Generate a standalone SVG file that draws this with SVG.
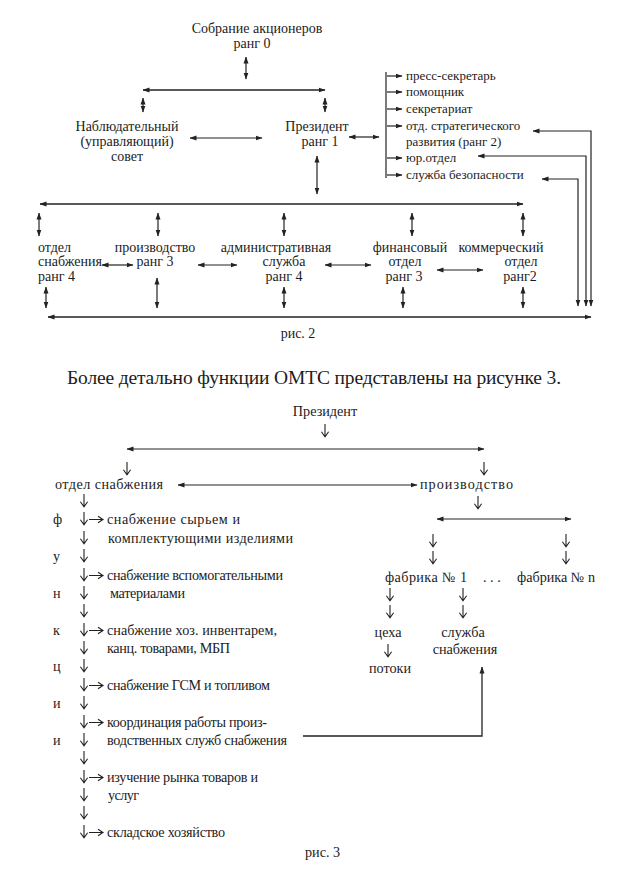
<svg xmlns="http://www.w3.org/2000/svg" xmlns:xlink="http://www.w3.org/1999/xlink" width="629" height="872" viewBox="0 0 629 872">
<style>
text{font-family:'Liberation Serif','DejaVu Serif','Noto Serif',serif;font-size:14px;fill:#1c1c1c}
.s{font-size:13px}
.f3{font-size:14.2px}
.h{font-size:19.5px}
.m{text-anchor:middle}
.ln{stroke:#222;stroke-width:1.2;fill:none}
.bus{stroke:#222;stroke-width:1.6;fill:none}
.da{marker-start:url(#ah);marker-end:url(#ah)}
.ea{marker-end:url(#ah)}
.g{stroke:#222;stroke-width:1.1;fill:none}
</style>
<defs>
<marker id="ah" markerUnits="userSpaceOnUse" markerWidth="7" markerHeight="6" refX="6.5" refY="3" orient="auto-start-reverse"><path d="M0,0.5 L7,3 L0,5.5 z" fill="#222"/></marker>
<path id="dn" d="M0,-12 V0.5 M-3.6,-4.2 L0,0.8 L3.6,-4.2"/>
<path id="rt" d="M0,0 H13.5 M9,-3.2 L14,0 L9,3.2"/>
</defs>
<rect width="629" height="872" fill="#fff"/>

<!-- Figure 2 -->
<g id="fig2-nodes">
<g id="n-sobranie"><text class="m" x="257" y="33">Собрание акционеров</text><text class="m" x="252" y="48">ранг 0</text></g>
<g id="n-nabl"><text class="m" x="127" y="131">Наблюдательный</text><text class="m" x="127" y="146">(управляющий)</text><text class="m" x="127" y="161">совет</text></g>
<g id="n-prez"><text class="m" x="317" y="131">Президент</text><text class="m" x="320" y="146">ранг 1</text></g>
<g id="n-list">
<text class="s" x="406" y="80">пресс-секретарь</text>
<text class="s" x="406" y="96">помощник</text>
<text class="s" x="406" y="113">секретариат</text>
<text class="s" x="406" y="130">отд. стратегического</text>
<text class="s" x="406" y="146">развития (ранг 2)</text>
<text class="s" x="406" y="162">юр.отдел</text>
<text class="s" x="406" y="179">служба безопасности</text>
</g>
<g id="n-otdsnab"><text x="38" y="252">отдел</text><text x="38" y="266">снабжения</text><text x="38" y="281">ранг 4</text></g>
<g id="n-proizv"><text class="m" x="155" y="252">производство</text><text class="m" x="155" y="266">ранг 3</text></g>
<g id="n-adm"><text class="m" x="276" y="252">административная</text><text class="m" x="284" y="266">служба</text><text class="m" x="284" y="281">ранг 4</text></g>
<g id="n-fin"><text class="m" x="410" y="252">финансовый</text><text class="m" x="405" y="266">отдел</text><text class="m" x="404" y="281">ранг 3</text></g>
<g id="n-komm"><text class="m" x="501" y="252">коммерческий</text><text class="m" x="521" y="266">отдел</text><text class="m" x="520" y="281">ранг2</text></g>
<text class="m" x="298" y="338">рис. 2</text>
</g>

<g id="fig2-connectors">
<line class="ln da" x1="246" y1="57" x2="246" y2="79"/>
<line class="bus da" x1="143" y1="90" x2="325" y2="90"/>
<line class="ln da" x1="143" y1="98" x2="143" y2="112"/>
<line class="ln da" x1="325" y1="98" x2="325" y2="112"/>
<line class="ln da" x1="190" y1="138" x2="262" y2="138"/>
<line class="ln da" x1="349" y1="137" x2="379" y2="137"/>
<line class="ln da" x1="317" y1="156" x2="317" y2="194"/>
<line class="ln" x1="386" y1="72" x2="386" y2="178"/>
<line class="ln ea" x1="387" y1="76" x2="402" y2="76"/>
<line class="ln ea" x1="387" y1="92" x2="402" y2="92"/>
<line class="ln ea" x1="387" y1="109" x2="402" y2="109"/>
<line class="ln ea" x1="387" y1="126" x2="402" y2="126"/>
<line class="ln ea" x1="387" y1="158" x2="402" y2="158"/>
<line class="ln ea" x1="387" y1="175" x2="402" y2="175"/>
<line class="bus da" x1="40" y1="204" x2="523" y2="204"/>
<line class="ln da" x1="39" y1="213" x2="39" y2="236"/>
<line class="ln da" x1="158" y1="213" x2="158" y2="236"/>
<line class="ln da" x1="284" y1="213" x2="284" y2="236"/>
<line class="ln da" x1="412" y1="213" x2="412" y2="236"/>
<line class="ln da" x1="523" y1="213" x2="523" y2="236"/>
<line class="ln da" x1="102" y1="265" x2="133" y2="265"/>
<line class="ln da" x1="198" y1="265" x2="237" y2="265"/>
<line class="ln da" x1="325" y1="265" x2="371" y2="265"/>
<line class="ln da" x1="437" y1="270" x2="483" y2="270"/>
<line class="ln da" x1="46" y1="287" x2="46" y2="308"/>
<line class="ln da" x1="157" y1="278" x2="157" y2="308"/>
<line class="ln da" x1="284" y1="287" x2="284" y2="308"/>
<line class="ln da" x1="403" y1="287" x2="403" y2="308"/>
<line class="ln da" x1="523" y1="287" x2="523" y2="308"/>
<line class="bus da" x1="48" y1="317" x2="591" y2="317"/>
<path class="ln da" d="M591,306 V131 H533"/>
<path class="ln da" d="M586,306 V156 H478"/>
<path class="ln da" d="M578,306 V179 H542"/>
</g>

<text class="h" x="67" y="384" textLength="494">Более детально функции ОМТС представлены на рисунке 3.</text>

<!-- Figure 3 -->
<g id="fig3-nodes">
<g id="m-prez"><text class="f3 m" x="325" y="416">Президент</text></g>
<g id="m-otdsnab"><text class="f3" x="55" y="489" textLength="108">отдел снабжения</text></g>
<g id="m-proizv"><text class="f3" x="420" y="489" textLength="93">производство</text></g>
<g id="m-fab1"><text class="f3" x="385" y="582" textLength="82">фабрика № 1</text></g>
<text class="f3" x="483" y="582">. . .</text>
<g id="m-fabn"><text class="f3" x="517" y="582" textLength="78">фабрика № n</text></g>
<g id="m-ceha"><text class="f3 m" x="388" y="637">цеха</text></g>
<g id="m-potoki"><text class="f3 m" x="390" y="673">потоки</text></g>
<g id="m-sluzhba"><text class="f3 m" x="463" y="637">служба</text><text class="f3 m" x="465" y="654">снабжения</text></g>
<g id="m-letters">
<text class="f3" x="53" y="524">ф</text>
<text class="f3" x="53" y="561">у</text>
<text class="f3" x="53" y="598">н</text>
<text class="f3" x="53" y="635">к</text>
<text class="f3" x="53" y="671">ц</text>
<text class="f3" x="53" y="708">и</text>
<text class="f3" x="53" y="745">и</text>
</g>
<g id="m-functions">
<text class="f3" x="107" y="524" textLength="133">снабжение сырьем и</text>
<text class="f3" x="108" y="543" textLength="185">комплектующими изделиями</text>
<text class="f3" x="107" y="580" textLength="176">снабжение вспомогательными</text>
<text class="f3" x="110" y="598" textLength="75">материалами</text>
<text class="f3" x="107" y="635" textLength="170">снабжение хоз. инвентарем,</text>
<text class="f3" x="107" y="653" textLength="123">канц. товарами, МБП</text>
<text class="f3" x="107" y="690" textLength="163">снабжение ГСМ и топливом</text>
<text class="f3" x="107" y="727" textLength="160">координация работы произ-</text>
<text class="f3" x="107" y="745" textLength="180">водственных служб снабжения</text>
<text class="f3" x="107" y="782" textLength="151">изучение рынка товаров и</text>
<text class="f3" x="108" y="800" textLength="31">услуг</text>
<text class="f3" x="107" y="837" textLength="118">складское хозяйство</text>
</g>
<text class="f3" x="305" y="857">рис. 3</text>
</g>

<g id="fig3-connectors" class="g">
<use xlink:href="#dn" x="325" y="436"/>
<line class="g da" x1="127" y1="449" x2="484" y2="449" style="stroke-width:1"/>
<use xlink:href="#dn" x="127" y="474"/>
<use xlink:href="#dn" x="484" y="474"/>
<line class="g da" x1="178" y1="485" x2="417" y2="485" style="stroke-width:1"/>
<use xlink:href="#dn" x="478" y="508"/>
<line class="g da" x1="437" y1="519" x2="571" y2="519" style="stroke-width:1"/>
<use xlink:href="#dn" x="433" y="546"/>
<use xlink:href="#dn" x="433" y="563"/>
<use xlink:href="#dn" x="566" y="546"/>
<use xlink:href="#dn" x="566" y="563"/>
<use xlink:href="#dn" x="390" y="600"/>
<use xlink:href="#dn" x="390" y="617"/>
<use xlink:href="#dn" x="463" y="600"/>
<use xlink:href="#dn" x="463" y="617"/>
<use xlink:href="#dn" x="388" y="656"/>
<path class="g ea" d="M303,736 H482 V667" style="stroke-width:1.3"/>
<use xlink:href="#dn" x="84" y="506"/>
<use xlink:href="#dn" x="84" y="524"/>
<use xlink:href="#dn" x="84" y="543"/>
<use xlink:href="#dn" x="84" y="561"/>
<use xlink:href="#dn" x="84" y="580"/>
<use xlink:href="#dn" x="84" y="598"/>
<use xlink:href="#dn" x="84" y="616"/>
<use xlink:href="#dn" x="84" y="635"/>
<use xlink:href="#dn" x="84" y="653"/>
<use xlink:href="#dn" x="84" y="671"/>
<use xlink:href="#dn" x="84" y="690"/>
<use xlink:href="#dn" x="84" y="708"/>
<use xlink:href="#dn" x="84" y="727"/>
<use xlink:href="#dn" x="84" y="745"/>
<use xlink:href="#dn" x="84" y="763"/>
<use xlink:href="#dn" x="84" y="782"/>
<use xlink:href="#dn" x="84" y="800"/>
<use xlink:href="#dn" x="84" y="818"/>
<use xlink:href="#dn" x="84" y="837"/>
<use xlink:href="#rt" x="89" y="519.5"/>
<use xlink:href="#rt" x="89" y="575.5"/>
<use xlink:href="#rt" x="89" y="630.5"/>
<use xlink:href="#rt" x="89" y="685.5"/>
<use xlink:href="#rt" x="89" y="722.5"/>
<use xlink:href="#rt" x="89" y="777.5"/>
<use xlink:href="#rt" x="89" y="832.5"/>
</g>
</svg>
